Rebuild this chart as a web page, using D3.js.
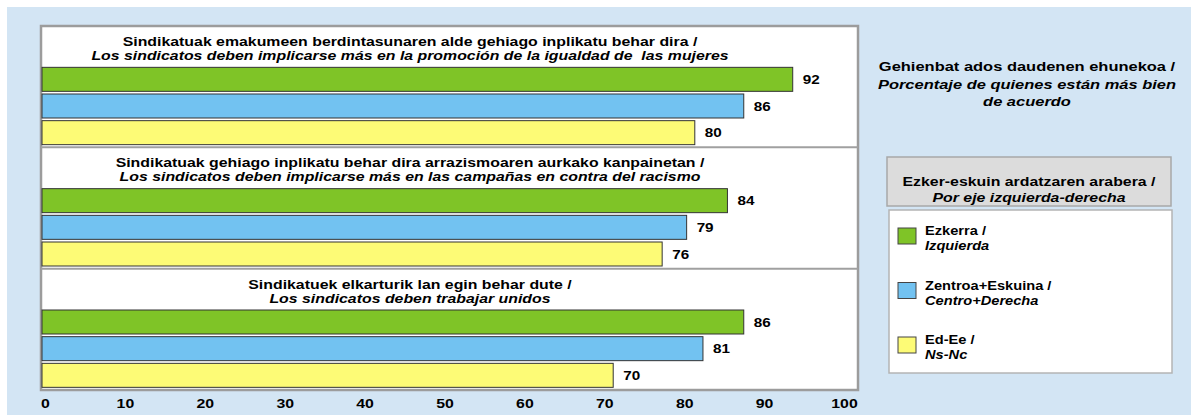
<!DOCTYPE html>
<html>
<head>
<meta charset="utf-8">
<script src="https://cdn.jsdelivr.net/npm/d3@7"></script>
<style>
  body { margin: 0; background: #fff; }
  svg text { font-family: "Liberation Sans", Arial, sans-serif; fill: #000; }
</style>
</head>
<body>
<div id="chart"></div>
<script>
// data
var questionsEu = [
  "Sindikatuak emakumeen berdintasunaren alde gehiago inplikatu behar dira /",
  "Sindikatuak gehiago inplikatu behar dira arrazismoaren aurkako kanpainetan /",
  "Sindikatuek elkarturik lan egin behar dute /"
];
var questionsEs = [
  "Los sindicatos deben implicarse más en la promoción de la igualdad de  las mujeres",
  "Los sindicatos deben implicarse más en las campañas en contra del racismo",
  "Los sindicatos deben trabajar unidos"
];
var seriesEu = ["Ezkerra /", "Zentroa+Eskuina /", "Ed-Ee /"];
var seriesEs = ["Izquierda", "Centro+Derecha", "Ns-Nc"];
var ezkerra = [92, 84, 86];
var zentroa = [86, 79, 81];
var edEe = [80, 76, 70];
var xTicks = [0, 10, 20, 30, 40, 50, 60, 70, 80, 90, 100];
var colors = ["#7fc427", "#72c2f1", "#fdfb76"];

var svgWidth = 1191;
var svgHeight = 415;
// the original text is drawn a bit wider than the font
var textStretch = 1.22;

var svg = d3.select("#chart")
  .append("svg")
  .attr("width", svgWidth)
  .attr("height", svgHeight);

// light blue background
svg.append("rect")
  .attr("x", 7).attr("y", 7)
  .attr("width", svgWidth - 7).attr("height", svgHeight - 7)
  .attr("fill", "#d3e5f4");

// plot frame
var plot = { left: 41, top: 26, right: 858, bottom: 390 };
svg.append("rect")
  .attr("x", plot.left).attr("y", plot.top)
  .attr("width", plot.right - plot.left)
  .attr("height", plot.bottom - plot.top)
  .attr("fill", "#fff")
  .attr("stroke", "#9c9c9c")
  .attr("stroke-width", 2.5);

// scales
var x = d3.scaleLinear().domain([0, 100]).range([42, 858]);
var xLabels = d3.scaleLinear().domain([0, 100]).range([45, 844]);
var yGroup = d3.scaleBand().domain(d3.range(questionsEu.length)).range([plot.top, plot.bottom]);
var yBar = d3.scaleBand().domain(d3.range(seriesEu.length)).range([40, 120])
  .paddingInner(0.1).paddingOuter(0.05);

var series = [ezkerra, zentroa, edEe];
var rows = [];
questionsEu.forEach(function(q, gi) {
  series.forEach(function(s, si) {
    rows.push({ g: gi, s: si, v: s[gi] });
  });
});

// separators between groups
svg.selectAll(".sep")
  .data(d3.range(1, questionsEu.length))
  .enter()
  .append("line")
  .attr("x1", plot.left).attr("x2", plot.right)
  .attr("y1", d => yGroup(d)).attr("y2", d => yGroup(d))
  .attr("stroke", "#a0a0a0")
  .attr("stroke-width", 2);

// group titles
var titles = svg.selectAll(".qtitle")
  .data(questionsEu)
  .enter()
  .append("g")
  .attr("transform", (d, i) => `translate(410, ${yGroup(i)})`);

titles.append("text")
  .attr("y", 20)
  .attr("text-anchor", "middle")
  .attr("font-size", "13px")
  .attr("font-weight", "bold")
  .text(d => d);

titles.append("text")
  .attr("y", 34)
  .attr("text-anchor", "middle")
  .attr("font-size", "13px")
  .attr("font-weight", "bold")
  .attr("font-style", "italic")
  .style("white-space", "pre")
  .text((d, i) => questionsEs[i]);

// bars
svg.selectAll(".bar")
  .data(rows)
  .enter()
  .append("rect")
  .attr("x", x(0))
  .attr("y", d => yGroup(d.g) + yBar(d.s))
  .attr("width", d => x(d.v) - x(0))
  .attr("height", yBar.bandwidth())
  .attr("fill", d => colors[d.s])
  .attr("stroke", "#333")
  .attr("stroke-width", 1);

// value labels
svg.selectAll(".val")
  .data(rows)
  .enter()
  .append("text")
  .attr("x", d => x(d.v) + 10)
  .attr("y", d => yGroup(d.g) + yBar(d.s) + yBar.bandwidth() / 2)
  .attr("dy", "0.36em")
  .attr("font-size", "12.5px")
  .attr("font-weight", "bold")
  .text(d => d.v);

// x axis labels
var xAxis = svg.append("g")
  .attr("transform", "translate(0, 396)")
  .call(d3.axisBottom(xLabels).tickValues(xTicks).tickSize(0).tickPadding(3));
xAxis.select(".domain").remove();
xAxis.selectAll("text")
  .attr("font-size", "13px")
  .attr("font-weight", "bold")
  .style("font-family", "'Liberation Sans', Arial, sans-serif");

// right side note
var note = ["Gehienbat ados daudenen ehunekoa /", "Porcentaje de quienes están más bien", "de acuerdo"];
svg.selectAll(".note")
  .data(note)
  .enter()
  .append("text")
  .attr("x", 1027)
  .attr("y", (d, i) => 71 + i * 17.5)
  .attr("text-anchor", "middle")
  .attr("font-size", "13.5px")
  .attr("font-weight", "bold")
  .attr("font-style", (d, i) => i === 0 ? "normal" : "italic")
  .text(d => d);

// legend title box
svg.append("rect")
  .attr("x", 887).attr("y", 157)
  .attr("width", 284).attr("height", 49)
  .attr("fill", "#dcdcdc")
  .attr("stroke", "#a8a8a8")
  .attr("stroke-width", 1.5);
svg.append("text")
  .attr("x", 1029).attr("y", 186)
  .attr("text-anchor", "middle")
  .attr("font-size", "13px").attr("font-weight", "bold")
  .text("Ezker-eskuin ardatzaren arabera /");
svg.append("text")
  .attr("x", 1029).attr("y", 202)
  .attr("text-anchor", "middle")
  .attr("font-size", "13px").attr("font-weight", "bold")
  .attr("font-style", "italic")
  .text("Por eje izquierda-derecha");

// legend box
svg.append("rect")
  .attr("x", 889).attr("y", 210)
  .attr("width", 283).attr("height", 163)
  .attr("fill", "#fff")
  .attr("stroke", "#b4b4b4")
  .attr("stroke-width", 1.5);

var yLegend = d3.scalePoint().domain(d3.range(seriesEu.length)).range([228, 337]);

var legendItems = svg.selectAll(".leg")
  .data(seriesEu)
  .enter()
  .append("g")
  .attr("transform", (d, i) => `translate(898, ${yLegend(i)})`);

legendItems.append("rect")
  .attr("width", 18).attr("height", 16)
  .attr("fill", (d, i) => colors[i])
  .attr("stroke", "#444")
  .attr("stroke-width", 1);

legendItems.append("text")
  .attr("x", 27).attr("y", 7)
  .attr("font-size", "12px").attr("font-weight", "bold")
  .text(d => d);

legendItems.append("text")
  .attr("x", 27).attr("y", 22)
  .attr("font-size", "12px").attr("font-weight", "bold")
  .attr("font-style", "italic")
  .text((d, i) => seriesEs[i]);

// widen every text around its anchor point
svg.selectAll("text").each(function() {
  var t = d3.select(this);
  var tx = +t.attr("x") || 0;
  var ty = +t.attr("y") || 0;
  t.attr("x", 0).attr("y", 0)
    .attr("transform", `translate(${tx},${ty}) scale(${textStretch},1)`);
});
</script>
</body>
</html>
